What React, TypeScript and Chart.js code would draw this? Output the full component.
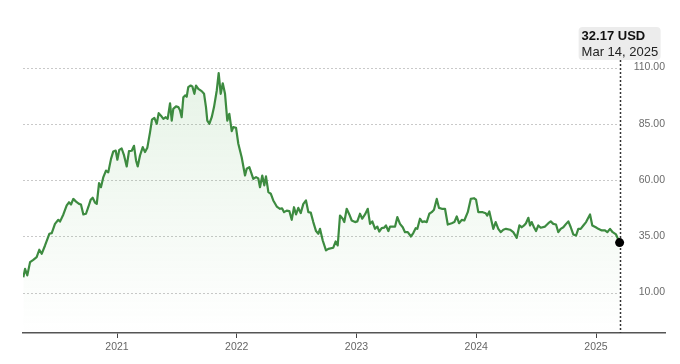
import React, { useEffect, useRef } from "react";
import { Chart, registerables } from "chart.js";

Chart.register(...registerables);

// Dates as decimal years (2020.218 ≈ mid-March 2020)
const dates: number[] = [
  2020.218, 2020.232, 2020.251, 2020.274, 2020.301, 2020.329, 2020.351, 2020.371, 2020.399, 2020.435,
  2020.455, 2020.482, 2020.510, 2020.524, 2020.552, 2020.580, 2020.599, 2020.616, 2020.635, 2020.658,
  2020.683, 2020.699, 2020.719, 2020.741, 2020.760, 2020.780, 2020.797, 2020.816, 2020.831, 2020.850,
  2020.866, 2020.886, 2020.908, 2020.927, 2020.950, 2020.969, 2020.989, 2021.003, 2021.019, 2021.039,
  2021.059, 2021.081, 2021.100, 2021.123, 2021.142, 2021.159, 2021.173, 2021.192, 2021.215, 2021.234,
  2021.253, 2021.276, 2021.292, 2021.312, 2021.332, 2021.348, 2021.367, 2021.387, 2021.407, 2021.423,
  2021.443, 2021.457, 2021.470, 2021.493, 2021.512, 2021.526, 2021.540, 2021.554, 2021.570, 2021.582,
  2021.595, 2021.615, 2021.629, 2021.646, 2021.660, 2021.679, 2021.707, 2021.727, 2021.743, 2021.754,
  2021.771, 2021.791, 2021.810, 2021.833, 2021.849, 2021.866, 2021.883, 2021.902, 2021.921, 2021.938,
  2021.958, 2021.971, 2021.994, 2022.013, 2022.041, 2022.069, 2022.083, 2022.105, 2022.138, 2022.161,
  2022.180, 2022.194, 2022.213, 2022.230, 2022.244, 2022.264, 2022.284, 2022.305, 2022.334, 2022.361,
  2022.378, 2022.395, 2022.417, 2022.439, 2022.459, 2022.478, 2022.495, 2022.514, 2022.534, 2022.556,
  2022.578, 2022.598, 2022.618, 2022.639, 2022.662, 2022.681, 2022.695, 2022.718, 2022.745, 2022.765,
  2022.806, 2022.826, 2022.843, 2022.862, 2022.885, 2022.898, 2022.918, 2022.940, 2022.960, 2022.988,
  2023.007, 2023.029, 2023.048, 2023.071, 2023.094, 2023.113, 2023.132, 2023.155, 2023.174, 2023.190,
  2023.210, 2023.230, 2023.246, 2023.266, 2023.280, 2023.302, 2023.322, 2023.341, 2023.363, 2023.386,
  2023.405, 2023.428, 2023.455, 2023.474, 2023.494, 2023.508, 2023.530, 2023.550, 2023.566, 2023.586,
  2023.608, 2023.628, 2023.647, 2023.670, 2023.689, 2023.712, 2023.739, 2023.762, 2023.795, 2023.817,
  2023.837, 2023.856, 2023.879, 2023.900, 2023.929, 2023.954, 2023.981, 2023.998, 2024.017, 2024.054,
  2024.079, 2024.092, 2024.109, 2024.142, 2024.162, 2024.184, 2024.204, 2024.226, 2024.248, 2024.282,
  2024.309, 2024.338, 2024.360, 2024.380, 2024.399, 2024.415, 2024.435, 2024.449, 2024.463, 2024.482,
  2024.499, 2024.518, 2024.538, 2024.574, 2024.602, 2024.622, 2024.643, 2024.666, 2024.685, 2024.705,
  2024.727, 2024.750, 2024.769, 2024.789, 2024.810, 2024.833, 2024.852, 2024.872, 2024.894, 2024.917,
  2024.931, 2024.950, 2024.969, 2024.998, 2025.019, 2025.048, 2025.075, 2025.094, 2025.117, 2025.139,
  2025.167, 2025.197,
];

const prices: number[] = [
  16.8, 20.5, 17.6, 23.5, 24.5, 25.7, 29.0, 27.2, 30.9, 36.1,
  36.4, 40.5, 42.3, 41.5, 44.7, 48.7, 50.1, 49.1, 51.6, 50.4,
  49.4, 49.1, 44.7, 45.0, 47.9, 51.2, 52.1, 50.0, 49.4, 58.6,
  56.8, 61.3, 64.2, 63.4, 69.4, 72.7, 73.1, 69.0, 73.4, 74.0,
  70.9, 66.0, 72.8, 73.0, 75.2, 68.7, 66.0, 70.9, 74.6, 72.4,
  74.3, 81.3, 86.8, 87.6, 85.0, 89.7, 88.6, 87.2, 87.9, 87.2,
  94.1, 86.4, 91.6, 92.7, 92.4, 91.0, 87.9, 96.8, 97.6, 97.0,
  101.3, 102.0, 101.6, 98.3, 102.0, 100.5, 99.5, 98.3, 92.4, 86.4,
  85.0, 87.9, 92.4, 99.8, 107.5, 98.3, 103.0, 98.3, 86.4, 89.4,
  81.7, 83.5, 83.2, 76.1, 70.1, 62.0, 65.0, 65.7, 60.5, 61.3,
  60.7, 56.8, 62.0, 57.6, 61.6, 54.6, 53.9, 50.9, 48.2, 47.2,
  47.4, 45.7, 46.4, 46.2, 42.3, 47.9, 44.7, 47.6, 45.3, 49.4,
  50.9, 45.7, 45.5, 41.3, 37.3, 36.1, 38.3, 33.1, 28.7, 29.4,
  29.9, 32.7, 30.9, 44.2, 42.8, 41.3, 47.2, 44.7, 42.0, 41.3,
  41.6, 45.0, 42.8, 44.7, 47.2, 40.5, 41.6, 38.3, 39.3, 37.1,
  38.6, 38.8, 39.8, 37.3, 39.3, 39.3, 39.3, 43.5, 40.5, 39.0,
  36.8, 36.8, 34.9, 36.4, 38.6, 38.3, 42.8, 41.3, 41.6, 41.3,
  45.0, 45.7, 46.8, 51.6, 47.6, 47.2, 47.2, 40.2, 40.8, 41.3,
  43.8, 40.8, 42.3, 42.0, 45.7, 51.6, 51.9, 51.3, 45.7, 45.7,
  45.2, 44.2, 46.0, 38.3, 41.3, 38.3, 36.8, 37.9, 38.3, 37.9,
  36.8, 34.3, 39.8, 39.0, 39.8, 40.8, 43.2, 39.8, 41.3, 39.0,
  37.3, 39.8, 38.8, 39.3, 40.8, 41.6, 40.5, 40.2, 36.8, 38.3,
  39.0, 40.5, 41.6, 39.0, 35.8, 35.3, 38.3, 38.3, 39.8, 41.3,
  42.8, 44.7, 39.8, 39.0, 38.3, 37.6, 37.6, 36.8, 38.3, 36.8,
  35.8, 32.17,
];

const yTickValues: number[] = [10, 35, 60, 85, 110];
const xTickValues: number[] = [2021, 2022, 2023, 2024, 2025];
const lastValueLabel = "32.17 USD";
const lastDateLabel = "Mar 14, 2025";

const FONT = "'Liberation Sans', Arial, Helvetica, sans-serif";

const overlayPlugin = {
  id: "overlay",
  beforeDatasetsDraw(chart: any) {
    const { ctx, chartArea, scales } = chart;
    const xs = scales.x;
    const ys = scales.y;
    const lastX = xs.getPixelForValue(dates[dates.length - 1]);
    ctx.save();
    // dashed horizontal gridlines
    ctx.strokeStyle = "#c9c9c9";
    ctx.lineWidth = 1;
    ctx.setLineDash([2, 2]);
    yTickValues.forEach((v) => {
      const py = Math.round(ys.getPixelForValue(v)) + 0.5;
      ctx.beginPath();
      ctx.moveTo(chartArea.left, py);
      ctx.lineTo(lastX - 2, py);
      ctx.stroke();
    });
    // vertical dotted marker line
    const boxBottom = chartArea.top + 15;
    ctx.strokeStyle = "#333";
    ctx.lineWidth = 1.5;
    ctx.setLineDash([2, 2]);
    ctx.beginPath();
    ctx.moveTo(Math.round(lastX) + 0.5, boxBottom);
    ctx.lineTo(Math.round(lastX) + 0.5, chartArea.bottom);
    ctx.stroke();
    ctx.restore();
  },
  afterDatasetsDraw(chart: any) {
    const { ctx, chartArea, scales } = chart;
    const lastX = scales.x.getPixelForValue(dates[dates.length - 1]);
    const boxW = 82;
    const boxH = 33;
    const boxBottom = chartArea.top + 15;
    const bx = lastX - boxW / 2;
    const by = boxBottom - boxH;
    ctx.save();
    ctx.fillStyle = "#ececec";
    ctx.beginPath();
    (ctx as any).roundRect(bx, by, boxW, boxH, 4);
    ctx.fill();
    ctx.textAlign = "left";
    ctx.textBaseline = "middle";
    ctx.fillStyle = "#111";
    ctx.font = `600 13px ${FONT}`;
    ctx.fillText(lastValueLabel, bx + 3, by + 9);
    ctx.fillStyle = "#222";
    ctx.font = `400 13px ${FONT}`;
    ctx.fillText(lastDateLabel, bx + 3, by + 25);
    ctx.restore();
  },
};

export default function App() {
  const canvasRef = useRef<HTMLCanvasElement | null>(null);

  useEffect(() => {
    const canvas = canvasRef.current;
    if (!canvas) return;
    const points = dates.map((d, i) => ({ x: d, y: prices[i] }));
    const n = points.length;
    const chart = new Chart(canvas, {
      type: "line",
      data: {
        datasets: [
          {
            data: points,
            borderColor: "#3d8b40",
            borderWidth: 2.2,
            tension: 0,
            borderJoinStyle: "round",
            fill: "start",
            backgroundColor: (c: any) => {
              const ch = c.chart;
              const area = ch.chartArea;
              if (!area) return "rgba(0,0,0,0)";
              const g = ch.ctx.createLinearGradient(0, area.top + 40, 0, area.bottom);
              g.addColorStop(0, "rgba(90,175,90,0.14)");
              g.addColorStop(1, "rgba(90,175,90,0)");
              return g;
            },
            pointRadius: (c: any) => (c.dataIndex === n - 1 ? 4.5 : 0),
            pointBackgroundColor: "#000",
            pointBorderWidth: 0,
            pointHoverRadius: 0,
          } as any,
        ],
      },
      options: {
        animation: false,
        responsive: false,
        devicePixelRatio: 1,
        events: [],
        layout: { padding: { left: 23, right: 15, top: 45, bottom: 0 } },
        plugins: {
          legend: { display: false },
          tooltip: { enabled: false },
        },
        scales: {
          x: {
            type: "linear",
            min: 2020.215,
            max: 2025.576,
            afterBuildTicks: (s: any) => {
              s.ticks = xTickValues.map((v) => ({ value: v }));
            },
            afterFit: (s: any) => {
              s.height = 31;
            },
            ticks: {
              callback: (v: any) => String(v),
              color: "#666",
              font: { family: FONT, size: 10.5 },
              padding: 3,
              maxRotation: 0,
              autoSkip: false,
            },
            grid: {
              display: true,
              drawOnChartArea: false,
              drawTicks: true,
              tickLength: 5,
              color: "#444",
              lineWidth: 1,
            },
            border: { display: true, color: "#555", width: 1.5 },
          },
          y: {
            type: "linear",
            position: "right",
            min: -8,
            max: 120,
            afterBuildTicks: (s: any) => {
              s.ticks = yTickValues.map((v) => ({ value: v }));
            },
            afterFit: (s: any) => {
              s.width = 0;
            },
            ticks: {
              mirror: true,
              padding: 0,
              callback: (v: any) => Number(v).toFixed(2),
              color: "#6b6b6b",
              font: { family: FONT, size: 10.5 },
            },
            grid: { display: false },
            border: { display: false },
          },
        },
      },
      plugins: [overlayPlugin],
    });
    return () => chart.destroy();
  }, []);

  return (
    <div style={{ position: "fixed", left: 0, top: 0, width: 680, height: 364, background: "#fff" }}>
      <canvas ref={canvasRef} width={680} height={364} style={{ display: "block" }} />
    </div>
  );
}
